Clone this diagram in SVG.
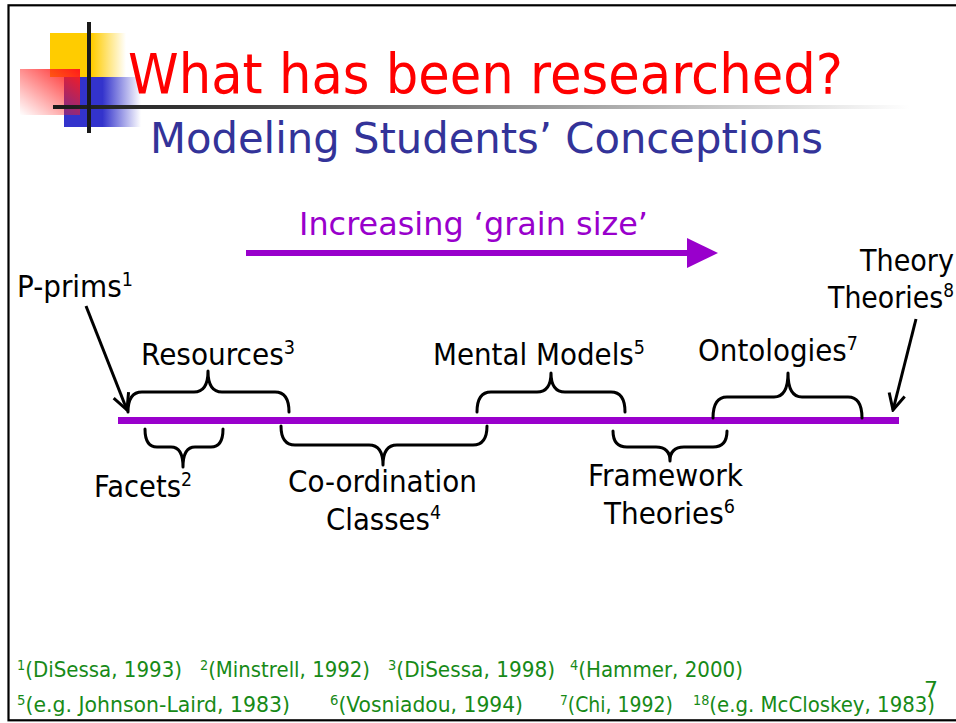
<svg xmlns="http://www.w3.org/2000/svg" width="956" height="723" viewBox="0 0 956 723">
<defs>
<linearGradient id="gY" x1="0" y1="0" x2="1" y2="0"><stop offset="0" stop-color="#FFCC00"/><stop offset="0.55" stop-color="#FFCC00"/><stop offset="1" stop-color="#FFCC00" stop-opacity="0"/></linearGradient>
<linearGradient id="gB" x1="0" y1="0" x2="1" y2="0"><stop offset="0" stop-color="#3333CC"/><stop offset="0.5" stop-color="#3333CC"/><stop offset="1" stop-color="#3333CC" stop-opacity="0"/></linearGradient>
<linearGradient id="gR" x1="1" y1="0" x2="0" y2="1"><stop offset="0" stop-color="#FF1A1A"/><stop offset="1" stop-color="#FF2020" stop-opacity="0"/></linearGradient>
<linearGradient id="gL" gradientUnits="userSpaceOnUse" x1="53" y1="0" x2="910" y2="0"><stop offset="0" stop-color="#1a1a1a"/><stop offset="0.15" stop-color="#333333"/><stop offset="1" stop-color="#333333" stop-opacity="0"/></linearGradient>
<marker id="ah" viewBox="-18 -10 20 20" refX="0" refY="0" markerWidth="20" markerHeight="20" markerUnits="userSpaceOnUse" orient="auto"><path d="M-16,-8 L0,0 L-16,8" fill="none" stroke="#000" stroke-width="3" stroke-linejoin="miter"/></marker>
</defs>
<style>
.lbl{font-family:"DejaVu Sans","Verdana",sans-serif;font-size:30px;fill:#000}
.sup{font-size:19px}
.fn{font-family:"DejaVu Sans","Verdana",sans-serif;font-size:21.5px;fill:#178a17}
.fsup{font-size:14px}
.brace{fill:none;stroke:#000;stroke-width:3;stroke-linecap:round;stroke-linejoin:round}
.arr{fill:none;stroke:#000;stroke-width:3}
</style>
<rect x="0" y="0" width="956" height="723" fill="#fff"/>
<rect x="8.5" y="5.3" width="960" height="715" fill="none" stroke="#000" stroke-width="2.2"/>

<g id="logo">
<rect x="50" y="33" width="76" height="44" fill="url(#gY)"/>
<rect x="64" y="77" width="77" height="50" fill="url(#gB)"/>
<rect x="20" y="69" width="60" height="46" fill="url(#gR)"/>
<rect x="53" y="105" width="857" height="4" fill="url(#gL)"/>
<rect x="87" y="22" width="4" height="111" fill="#1a1a1a"/>
</g>

<g id="title">
<text x="128" y="93" textLength="715" lengthAdjust="spacingAndGlyphs" style="font-family:'DejaVu Sans',Verdana,sans-serif;font-size:56px;fill:#FF0000">What has been researched?</text>
<text x="150" y="153" textLength="673" lengthAdjust="spacingAndGlyphs" style="font-family:'DejaVu Sans',Verdana,sans-serif;font-size:42px;fill:#333399">Modeling Students’ Conceptions</text>
</g>

<g id="grain-arrow">
<text x="299" y="235" textLength="349" lengthAdjust="spacingAndGlyphs" style="font-family:'DejaVu Sans',Verdana,sans-serif;font-size:32px;fill:#9900CC">Increasing ‘grain size’</text>
<rect x="246" y="250" width="444" height="6" fill="#9900CC"/>
<polygon points="687,238 718,253 687,268" fill="#9900CC"/>
</g>

<g id="timeline">
<rect x="118" y="417" width="781" height="7" fill="#9900CC"/>
</g>

<g id="connectors">
<line class="arr" x1="86" y1="306" x2="127" y2="410" marker-end="url(#ah)"/>
<line class="arr" x1="916" y1="319" x2="893" y2="410" marker-end="url(#ah)"/>
<path class="brace" d="M128,412 Q128,392 142,392 L194,392 Q208,392 208,371 Q208,392 222,392 L275,392 Q289,392 289,412"/>
<path class="brace" d="M477,412 Q477,392 491,392 L537,392 Q551,392 551,373 Q551,392 565,392 L611,392 Q625,392 625,412"/>
<path class="brace" d="M713,418 Q713,397 727,397 L774,397 Q788,397 788,373 Q788,397 802,397 L848,397 Q862,397 862,418"/>
<path class="brace" d="M145,429 Q145,447 157,447 L171,447 Q183,447 183,467 Q183,447 195,447 L211,447 Q223,447 223,429"/>
<path class="brace" d="M281,426 Q281,445 295,445 L369,445 Q383,445 383,465 Q383,445 397,445 L473,445 Q487,445 487,426"/>
<path class="brace" d="M613,431 Q613,447 627,447 L656,447 Q670,447 670,461 Q670,447 684,447 L713,447 Q727,447 727,431"/>
</g>

<g id="pprims"><text class="lbl" x="17" y="297" textLength="116" lengthAdjust="spacingAndGlyphs">P-prims<tspan class="sup" dy="-11">1</tspan></text></g>
<g id="resources"><text class="lbl" x="141" y="365" textLength="154" lengthAdjust="spacingAndGlyphs">Resources<tspan class="sup" dy="-11">3</tspan></text></g>
<g id="mental-models"><text class="lbl" x="433" y="365" textLength="212" lengthAdjust="spacingAndGlyphs">Mental Models<tspan class="sup" dy="-11">5</tspan></text></g>
<g id="ontologies"><text class="lbl" x="698" y="361" textLength="160" lengthAdjust="spacingAndGlyphs">Ontologies<tspan class="sup" dy="-11">7</tspan></text></g>
<g id="theory-theories">
<text class="lbl" x="860" y="271" textLength="94" lengthAdjust="spacingAndGlyphs">Theory</text>
<text class="lbl" x="828" y="308" textLength="126" lengthAdjust="spacingAndGlyphs">Theories<tspan class="sup" dy="-11">8</tspan></text>
</g>
<g id="facets"><text class="lbl" x="94" y="497" textLength="98" lengthAdjust="spacingAndGlyphs">Facets<tspan class="sup" dy="-11">2</tspan></text></g>
<g id="coordination">
<text class="lbl" x="288" y="492" textLength="189" lengthAdjust="spacingAndGlyphs">Co-ordination</text>
<text class="lbl" x="326" y="530" textLength="115" lengthAdjust="spacingAndGlyphs">Classes<tspan class="sup" dy="-11">4</tspan></text>
</g>
<g id="framework">
<text class="lbl" x="588" y="486" textLength="155" lengthAdjust="spacingAndGlyphs">Framework</text>
<text class="lbl" x="604" y="524" textLength="131" lengthAdjust="spacingAndGlyphs">Theories<tspan class="sup" dy="-11">6</tspan></text>
</g>

<g id="footnotes">
<text class="fn" x="17" y="677" textLength="165" lengthAdjust="spacingAndGlyphs"><tspan class="fsup" dy="-7">1</tspan><tspan dy="7">(DiSessa, 1993)</tspan></text>
<text class="fn" x="200" y="677" textLength="170" lengthAdjust="spacingAndGlyphs"><tspan class="fsup" dy="-7">2</tspan><tspan dy="7">(Minstrell, 1992)</tspan></text>
<text class="fn" x="388" y="677" textLength="167" lengthAdjust="spacingAndGlyphs"><tspan class="fsup" dy="-7">3</tspan><tspan dy="7">(DiSessa, 1998)</tspan></text>
<text class="fn" x="570" y="677" textLength="173" lengthAdjust="spacingAndGlyphs"><tspan class="fsup" dy="-7">4</tspan><tspan dy="7">(Hammer, 2000)</tspan></text>
<text class="fn" x="17" y="712" textLength="273" lengthAdjust="spacingAndGlyphs"><tspan class="fsup" dy="-7">5</tspan><tspan dy="7">(e.g. Johnson-Laird, 1983)</tspan></text>
<text class="fn" x="330" y="712" textLength="193" lengthAdjust="spacingAndGlyphs"><tspan class="fsup" dy="-7">6</tspan><tspan dy="7">(Vosniadou, 1994)</tspan></text>
<text class="fn" x="560" y="712" textLength="113" lengthAdjust="spacingAndGlyphs"><tspan class="fsup" dy="-7">7</tspan><tspan dy="7">(Chi, 1992)</tspan></text>
<text class="fn" x="693" y="712" textLength="242" lengthAdjust="spacingAndGlyphs"><tspan class="fsup" dy="-7">18</tspan><tspan dy="7">(e.g. McCloskey, 1983)</tspan></text>
<text class="fn" x="924" y="697" style="font-size:22px">7</text>
</g>
</svg>
